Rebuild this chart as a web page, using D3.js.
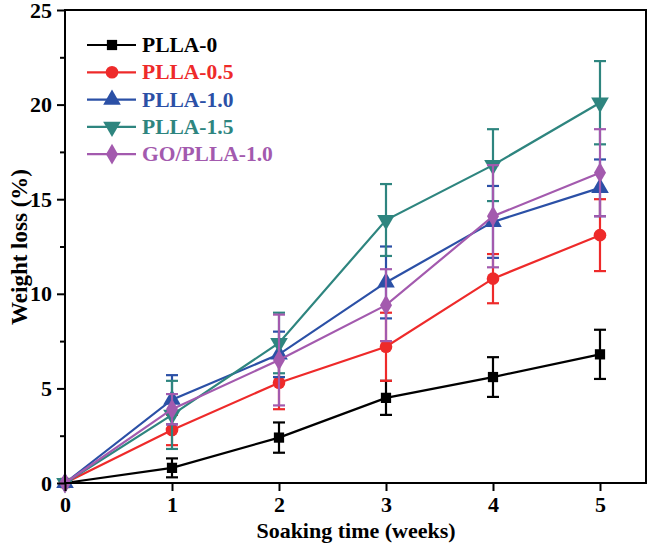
<!DOCTYPE html>
<html><head><meta charset="utf-8">
<script src="https://cdn.jsdelivr.net/npm/d3@7"></script>
<style>body{margin:0;background:#fff}svg{display:block}</style>
</head><body>
<script>
const weeks = [0, 1, 2, 3, 4, 5];
const seriesNames = ["PLLA-0", "PLLA-0.5", "PLLA-1.0", "PLLA-1.5", "GO/PLLA-1.0"];
const plla0   = [0, 0.8, 2.4, 4.5, 5.6, 6.8];
const plla0Err= [0, 0.5, 0.8, 0.9, 1.05, 1.3];
const plla05  = [0, 2.8, 5.3, 7.2, 10.8, 13.1];
const plla05Err=[0, 0.8, 1.4, 1.8, 1.3, 1.9];
const plla10  = [0, 4.4, 6.8, 10.6, 13.8, 15.6];
const plla10Err=[0, 1.3, 1.2, 1.9, 1.9, 1.5];
const plla15  = [0, 3.6, 7.4, 13.9, 16.8, 20.1];
const plla15Err=[0, 1.8, 1.6, 1.9, 1.9, 2.2];
const goPlla  = [0, 3.9, 6.5, 9.4, 14.1, 16.4];
const goPllaErr=[0, 0.8, 2.4, 1.9, 2.7, 2.3];
const yTicks = [0, 5, 10, 15, 20, 25];
const xTicks = [0, 1, 2, 3, 4, 5];

const colors = ["#000000", "#ee2a2a", "#2b50a6", "#2e857f", "#a35aae"];
const symbols = [d3.symbolSquare, d3.symbolCircle, d3.symbolTriangle, "tri-down", d3.symbolDiamond];
const values = [plla0, plla05, plla10, plla15, goPlla];
const errors = [plla0Err, plla05Err, plla10Err, plla15Err, goPllaErr];

const W = 651, H = 545;
const svg = d3.select("body").append("svg").attr("width", W).attr("height", H);
const x = d3.scaleLinear().domain([0, 5.43]).range([65, 646]);
const y = d3.scaleLinear().domain([0, 25]).range([483, 10]);
const font = "'Liberation Serif','Times New Roman',serif";

function markerPath(sym, size) {
  if (sym === "tri-down") return d3.symbol().type(d3.symbolTriangle).size(size)();
  return d3.symbol().type(sym).size(size)();
}
const sizes = [105, 125, 135, 135, 125];

const series = seriesNames.map((n, i) => ({name: n, color: colors[i], sym: symbols[i],
  pts: weeks.map((w, j) => ({x: w, y: values[i][j], e: errors[i][j]}))}));

series.forEach((s, i) => {
  const g = svg.append("g");
  g.append("path").datum(s.pts)
    .attr("fill", "none").attr("stroke", s.color).attr("stroke-width", 2.2)
    .attr("d", d3.line().x(d => x(d.x)).y(d => y(d.y)));
  const eb = g.selectAll(".eb").data(s.pts.filter(d => d.e > 0)).enter().append("g");
  eb.append("line").attr("x1", d => x(d.x)).attr("x2", d => x(d.x))
    .attr("y1", d => y(d.y - d.e)).attr("y2", d => y(d.y + d.e))
    .attr("stroke", s.color).attr("stroke-width", 2.2);
  [-1, 1].forEach(sg => {
    eb.append("line").attr("x1", d => x(d.x) - 6).attr("x2", d => x(d.x) + 6)
      .attr("y1", d => y(d.y + sg * d.e)).attr("y2", d => y(d.y + sg * d.e))
      .attr("stroke", s.color).attr("stroke-width", 2.2);
  });
  g.selectAll(".m").data(s.pts).enter().append("path")
    .attr("d", markerPath(s.sym, sizes[i]))
    .attr("transform", d => `translate(${x(d.x)},${y(d.y)})` + (s.sym === "tri-down" ? " rotate(180)" : ""))
    .attr("fill", s.color);
});

svg.append("rect").attr("x", 65).attr("y", 10).attr("width", 581).attr("height", 473)
  .attr("fill", "none").attr("stroke", "#000").attr("stroke-width", 2);

const xAxis = svg.append("g").attr("transform", "translate(0,483)")
  .call(d3.axisBottom(x).tickValues(xTicks).tickFormat(d3.format("d")).tickSize(8).tickPadding(5));
const yAxis = svg.append("g").attr("transform", "translate(65,0)")
  .call(d3.axisLeft(y).tickValues(yTicks).tickFormat(d3.format("d")).tickSize(8).tickPadding(5));
svg.append("g").attr("transform", "translate(65,0)")
  .call(d3.axisLeft(y).tickValues([2.5, 7.5, 12.5, 17.5, 22.5]).tickFormat("").tickSize(5))
  .select(".domain").remove();
[xAxis, yAxis].forEach(a => {
  a.select(".domain").remove();
  a.selectAll("text").attr("font-family", font).attr("font-weight", "bold").attr("font-size", 22).attr("fill", "#000");
});
svg.selectAll(".tick line").attr("stroke-width", 2);

svg.append("text").attr("x", 356).attr("y", 538).attr("text-anchor", "middle")
  .attr("font-family", font).attr("font-weight", "bold").attr("font-size", 22).text("Soaking time (weeks)");
svg.append("text").attr("transform", "translate(27,247) rotate(-90)").attr("text-anchor", "middle")
  .attr("font-family", font).attr("font-weight", "bold").attr("font-size", 23).text("Weight loss (%)");

const leg = svg.append("g");
series.forEach((s, i) => {
  const yy = 45 + i * 27.3;
  leg.append("line").attr("x1", 87).attr("x2", 136).attr("y1", yy).attr("y2", yy)
    .attr("stroke", s.color).attr("stroke-width", 2.2);
  leg.append("path").attr("d", markerPath(s.sym, sizes[i]))
    .attr("transform", `translate(112,${yy})` + (s.sym === "tri-down" ? " rotate(180)" : ""))
    .attr("fill", s.color);
  leg.append("text").attr("x", 142).attr("y", yy + 7).attr("font-family", font)
    .attr("font-weight", "bold").attr("font-size", 21.5).attr("fill", s.color).text(s.name);
});
</script>
</body></html>
